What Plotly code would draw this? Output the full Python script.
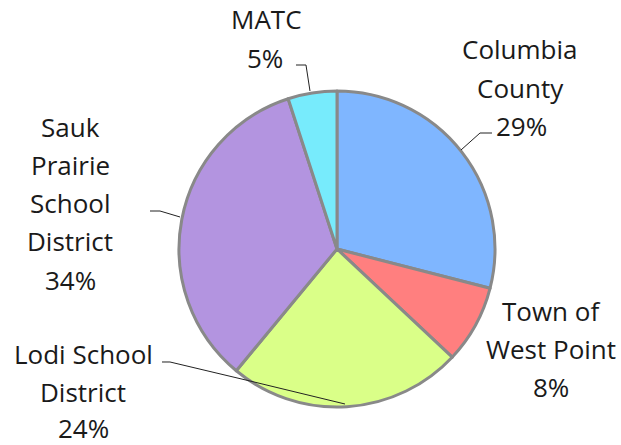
import plotly.graph_objects as go

W, H = 621, 445

categories = ["Columbia County", "Town of West Point", "Lodi School District",
              "Sauk Prairie School District", "MATC"]
values = [29, 8, 24, 34, 5]
colors = ["#7FB6FF", "#FF7F7F", "#DAFF88", "#B394E0", "#77EBFC"]

# label lines (text, center x px, center y px)
label_lines = [
    ("MATC", 266, 19), ("5%", 265, 58),
    ("Columbia", 520, 49), ("County", 520, 88), ("29%", 521, 126),
    ("Town of", 551, 311), ("West Point", 551, 349), ("8%", 551, 387),
    ("Lodi School", 83, 354), ("District", 83, 392), ("24%", 83, 428),
    ("Sauk", 70, 127), ("Prairie", 70, 165), ("School", 70, 203),
    ("District", 70, 241), ("34%", 70, 280),
]

leaders = [
    [(296, 65), (306, 65), (310, 91)],
    [(492, 133), (480, 133), (461, 150)],
    [(150, 211), (160, 211), (180, 217)],
    [(162, 362), (170, 362), (250, 381), (345, 404)],
]

cx, cy, r = 337, 249, 158

fig = go.Figure(go.Pie(
    labels=categories, values=values, sort=False, direction="clockwise",
    rotation=0, textinfo="none", hoverinfo="label+percent",
    marker=dict(colors=colors, line=dict(color="#898989", width=3)),
    domain=dict(x=[(cx - r) / W, (cx + r) / W], y=[1 - (cy + r) / H, 1 - (cy - r) / H]),
    showlegend=False,
))

for t, x, y in label_lines:
    fig.add_annotation(text=t, x=x / W, y=1 - y / H, xref="paper", yref="paper",
                       showarrow=False, xanchor="center", yanchor="middle",
                       borderpad=0,
                       font=dict(family="Open Sans", size=26, color="#1a1a1a"))

for pts in leaders:
    path = "M " + " L ".join(f"{x / W:.5f},{1 - y / H:.5f}" for x, y in pts)
    fig.add_shape(type="path", path=path, xref="paper", yref="paper",
                  line=dict(color="#222222", width=1))

fig.update_layout(width=W, height=H, margin=dict(l=0, r=0, t=0, b=0),
                  paper_bgcolor="white", plot_bgcolor="white")

fig.write_html("out.html")
